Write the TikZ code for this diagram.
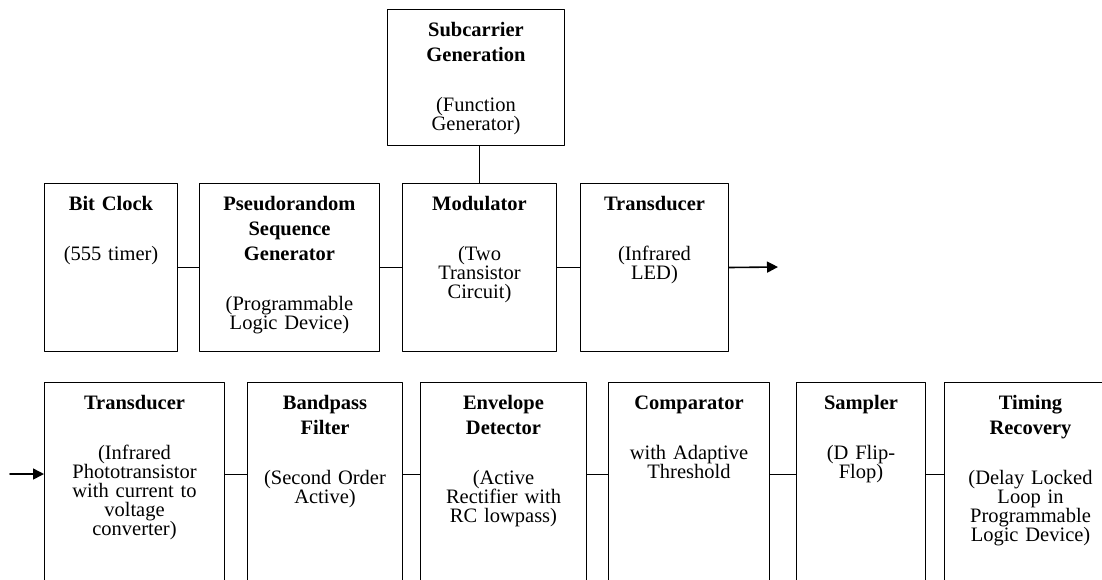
\documentclass[tikz,border=0pt]{standalone}
\usepackage{fontspec}
\setmainfont{Liberation Serif}
\usetikzlibrary{arrows,arrows.meta}

\begin{document}
\begin{tikzpicture}[line cap=round,line join=round,>={Triangle[length=11pt,width=11pt]},x=1pt,y=1pt,
  font=\fontsize{20.5}{19}\selectfont,
  blk/.style={draw,line width=1pt,anchor=north west,inner sep=0pt,align=center,text height=27pt},
  sig/.style={->,line width=1.6pt}]
\useasboundingbox (0,0) rectangle (1102,-579);
\clip (0,0) rectangle (1102,-579);
% transmitter
\node [blk,text width=177pt,text depth=109pt] (sub) at (387,-9) {\textbf{Subcarrier}\\[6pt]\textbf{Generation}\\[31pt](Function\\Generator)};
\node [blk,text width=133pt,text depth=141pt] (bit) at (44,-183) {\textbf{Bit Clock}\\[31pt](555 timer)};
\node [blk,text width=180pt,text depth=141pt] (prng) at (199,-183) {\textbf{Pseudorandom}\\[6pt]\textbf{Sequence}\\[6pt]\textbf{Generator}\\[31pt](Programmable\\Logic Device)};
\node [blk,text width=154pt,text depth=141pt] (mod) at (402,-183) {\textbf{Modulator}\\[31pt](Two\\Transistor\\Circuit)};
\node [blk,text width=148pt,text depth=141pt] (txout) at (580,-183) {\textbf{Transducer}\\[31pt](Infrared\\LED)};
\coordinate (out) at (778,-267);
\foreach \a/\b in {bit/prng,prng/mod,mod/txout}
  \draw [line width=1pt] (\a.east) -- (\b.west);
\draw [line width=1pt] (sub.south -| mod.north) -- (mod.north);
\draw [sig] (txout.east) -- (out);
% receiver
\node [blk,text width=180pt,text depth=250pt] (txin) at (44,-382) {\textbf{Transducer}\\[31pt](Infrared\\Phototransistor\\with current to\\voltage\\converter)};
\node [blk,text width=155pt,text depth=250pt] (bpf) at (247,-382) {\textbf{Bandpass}\\[6pt]\textbf{Filter}\\[31pt](Second Order\\Active)};
\node [blk,text width=166pt,text depth=250pt] (env) at (420,-382) {\textbf{Envelope}\\[6pt]\textbf{Detector}\\[31pt](Active\\Rectifier with\\RC lowpass)};
\node [blk,text width=161pt,text depth=250pt] (cmp) at (608,-382) {\textbf{Comparator}\\[31pt]with Adaptive\\Threshold};
\node [blk,text width=129pt,text depth=250pt] (smp) at (796,-382) {\textbf{Sampler}\\[31pt](D Flip-\\Flop)};
\node [blk,text width=172pt,text depth=250pt] (tim) at (944,-382) {\textbf{Timing}\\[6pt]\textbf{Recovery}\\[31pt](Delay Locked\\Loop in\\Programmable\\Logic Device)};
\coordinate (in) at (10,-474);
\draw [sig] (in) -- (in -| txin.west);
\foreach \a/\b in {txin/bpf,bpf/env,env/cmp,cmp/smp,smp/tim}
  \draw [line width=1pt] (\a.east |- in) -- (\b.west |- in);
\end{tikzpicture}
\end{document}
